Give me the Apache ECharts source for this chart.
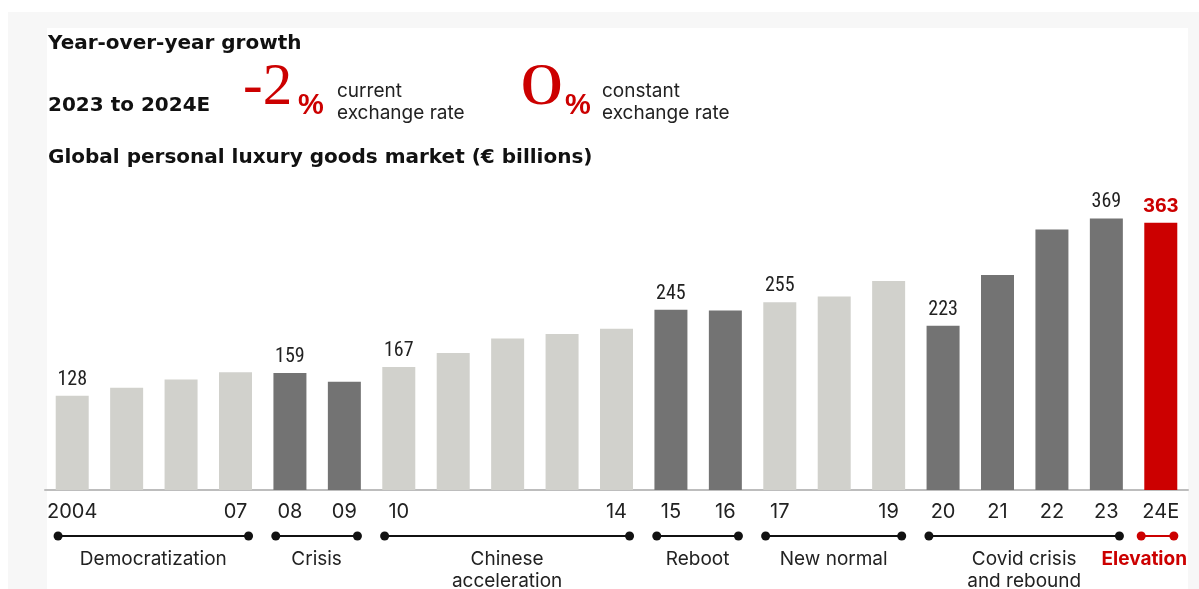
<!DOCTYPE html>
<html><head><meta charset="utf-8">
<script src="https://cdn.jsdelivr.net/npm/echarts@6/dist/echarts.min.js"></script>
<style>html,body{margin:0;padding:0;background:#fff}#c{width:1199px;height:589px}</style>
</head><body><div id="c"></div>
<script>
const years = ['2004','2005','2006','2007','2008','2009','2010','2011','2012','2013','2014','2015','2016','2017','2018','2019','2020','2021','2022','2023','2024E'];
const tickLabels = ['2004','','','07','08','09','10','','','','14','15','16','17','','19','20','21','22','23','24E'];
const values = [128,139,150,160,159,147,167,186,206,212,219,245,244,255,263,284,223,292,354,369,363];
const barTone = ['light','light','light','light','dark','dark','light','light','light','light','light','dark','dark','light','light','light','dark','dark','dark','dark','red'];
const labeledYears = ['2004','2008','2010','2015','2017','2020','2023','2024E'];
const periodNames = ['Democratization','Crisis','Chinese\nacceleration','Reboot','New normal','Covid crisis\nand rebound','Elevation'];
const periodStart = ['2004','2008','2010','2015','2017','2020','2024E'];
const periodEnd = ['2007','2009','2014','2016','2019','2023','2024E'];
const highlightPeriod = 'Elevation';
const headerTitle = 'Year-over-year growth';
const headerPeriod = '2023 to 2024E';
const growthCurrent = '-2';
const growthConstant = '0';
const chartTitle = 'Global personal luxury goods market (€ billions)';

const RED = '#cc0000';
const toneColor = {light:'#d1d1cc', dark:'#737373', red:RED};
const narrow = '"Liberation Sans Narrow","Arial Narrow","Roboto Condensed",Roboto,sans-serif';
const boldHead = 'bold 20px "DejaVu Sans",sans-serif';
const regular = 'Inter,Roboto,sans-serif';

const measureCtx = document.createElement('canvas').getContext('2d');
function textW(t, font){ measureCtx.font = font; return measureCtx.measureText(t).width; }

const chart = echarts.init(document.getElementById('c'), null, {renderer:'canvas'});

const barData = values.map((v,i)=>{
  const isRed = barTone[i]==='red';
  return {
    value: v,
    itemStyle: {color: toneColor[barTone[i]]},
    label: {
      show: labeledYears.includes(years[i]),
      position: 'top', distance: 6,
      color: isRed ? RED : '#222',
      fontSize: isRed ? 21 : 20,
      fontWeight: isRed ? 'bold' : 'normal',
      fontFamily: isRed ? '"Liberation Sans",Arial,sans-serif' : narrow
    }
  };
});

const periodData = periodNames.map((n,i)=>[years.indexOf(periodStart[i]), years.indexOf(periodEnd[i]), 0]);

chart.setOption({
  animation: false,
  backgroundColor: '#fff',
  grid: {left: 45, right: 11, top: 195.6, bottom: 99},
  xAxis: {
    type: 'category', data: years, boundaryGap: true,
    axisLine: {lineStyle: {color: '#bdbdbd', width: 2}},
    axisTick: {show: false},
    axisLabel: {interval: 0, margin: 12, fontSize: 20, fontFamily: regular, color: '#222',
      formatter: (v, i) => tickLabels[i]}
  },
  yAxis: {type: 'value', min: 0, max: 400, show: false, splitLine: {show: false}},
  graphic: [
    {type:'rect', z:-10, shape:{x:8,y:12,width:1191,height:577}, style:{fill:'#f7f7f7'}},
    {type:'rect', z:-9, shape:{x:47,y:28,width:1141,height:561}, style:{fill:'#ffffff'}},
    {type:'text', x:48, y:44, style:{text:headerTitle, font:boldHead, fill:'#111', textVerticalAlign:'middle'}},
    {type:'text', x:48, y:106, style:{text:headerPeriod, font:boldHead, fill:'#111', textVerticalAlign:'middle'}},
    {type:'text', x:243, y:118, style:{text:growthCurrent, font:'59px "Liberation Serif",serif', fill:RED, textVerticalAlign:'bottom'}},
    {type:'text', x:298, y:120, style:{text:'%', font:'bold 29px "Liberation Sans",sans-serif', fill:RED, textVerticalAlign:'bottom'}},
    {type:'text', x:337, y:80, style:{text:'current\nexchange rate', font:'19px ' + regular, lineHeight:22, fill:'#222'}},
    {type:'text', x:520, y:118, scaleX:1.45, style:{text:growthConstant, font:'60px "Liberation Serif",serif', fill:RED, textVerticalAlign:'bottom'}},
    {type:'text', x:565, y:120, style:{text:'%', font:'bold 29px "Liberation Sans",sans-serif', fill:RED, textVerticalAlign:'bottom'}},
    {type:'text', x:602, y:80, style:{text:'constant\nexchange rate', font:'19px ' + regular, lineHeight:22, fill:'#222'}},
    {type:'text', x:48, y:158, style:{text:chartTitle, font:boldHead, fill:'#111', textVerticalAlign:'middle'}}
  ],
  series: [
    {type:'bar', data: barData, barWidth: 33, silent: true},
    {
      type:'custom', clip:false, silent:true, z:5,
      data: periodData, encode:{x:[0,1], y:2},
      renderItem: function(params, api){
        const i = params.dataIndex;
        const s = api.coord([api.value(0), 0]);
        const e = api.coord([api.value(1), 0]);
        const band = api.size([1,0])[0];
        const y = s[1] + 46;
        const single = api.value(0) === api.value(1);
        const x1 = s[0] - band*(single?0.36:0.26);
        const x2 = e[0] + band*0.24;
        const hl = periodNames[i] === highlightPeriod;
        const col = hl ? RED : '#111';
        const font = (hl ? 'bold ' : '') + '19px ' + regular;
        const lines = periodNames[i].split('\n');
        const w = Math.max.apply(null, lines.map(l=>textW(l, font)));
        let cx = (x1+x2)/2;
        const lim = api.getWidth() - 12;
        if (cx + w/2 > lim) cx = lim - w/2;
        return {type:'group', children:[
          {type:'line', shape:{x1:x1,y1:y,x2:x2,y2:y}, style:{stroke:col, lineWidth:2}},
          {type:'circle', shape:{cx:x1,cy:y,r:4.5}, style:{fill:col}},
          {type:'circle', shape:{cx:x2,cy:y,r:4.5}, style:{fill:col}},
          {type:'text', style:{text:periodNames[i], x:cx, y:y+12, textAlign:'center', textVerticalAlign:'top',
             font:font, lineHeight:22, fill: hl ? RED : '#222'}}
        ]};
      }
    }
  ]
});
</script></body></html>
